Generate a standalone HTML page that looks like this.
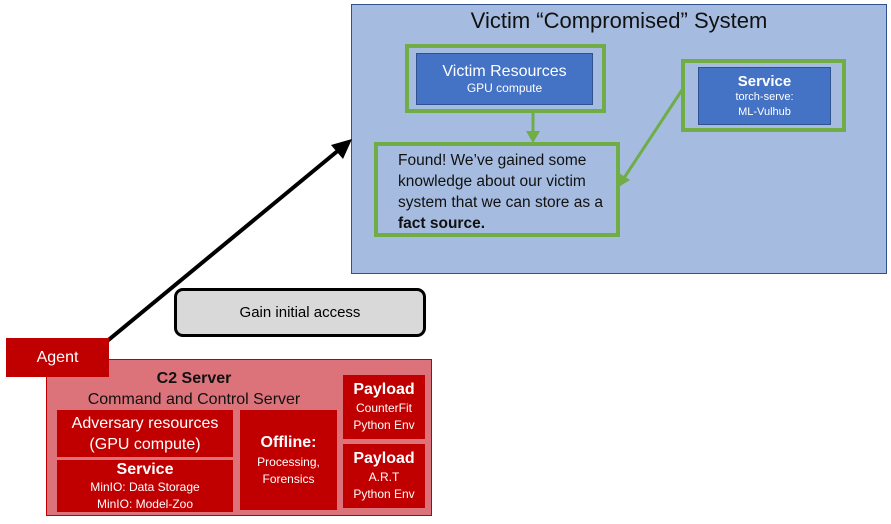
<!DOCTYPE html>
<html><head><style>
body{margin:0;width:891px;height:524px;background:#fff;position:relative;overflow:hidden;font-family:"Liberation Sans",sans-serif}
.a{position:absolute;box-sizing:border-box}
.r{background:#c00000;color:#fff;text-align:center;display:flex;flex-direction:column;justify-content:center;align-items:center}
.b{background:#4472c4;border:1px solid #2f528f;color:#fff;text-align:center;display:flex;flex-direction:column;justify-content:center}
.g{border:4px solid #70ad47}
</style></head><body>
<div class="a" style="left:351px;top:4px;width:536px;height:270px;background:#a5bbe0;border:1px solid #2f528f"></div>
<div class="a" style="left:351px;top:8px;width:536px;text-align:center;font-size:22px;color:#111">Victim “Compromised” System</div>
<div class="a g" style="left:405px;top:44px;width:201px;height:69px"></div>
<div class="a b" style="left:416px;top:53px;width:177px;height:52px"><div style="font-size:16px">Victim Resources</div><div style="font-size:12px">GPU compute</div></div>
<div class="a g" style="left:681px;top:59px;width:165px;height:73px"></div>
<div class="a b" style="left:698px;top:67px;width:133px;height:58px"><div style="font-size:15px;font-weight:bold">Service</div><div style="font-size:11px;line-height:15px">torch-serve:<br>ML-Vulhub</div></div>
<div class="a g" style="left:374px;top:142px;width:246px;height:95px;padding:4px 0 0 20px;font-size:15.5px;line-height:21px;color:#111">Found! We’ve gained some knowledge about our victim system that we can store as a <b>fact source.</b></div>
<svg class="a" style="left:0;top:0" width="891" height="524">
<line x1="533" y1="112" x2="533" y2="134" stroke="#70ad47" stroke-width="3"/>
<polygon points="526,131 540,131 533,143" fill="#70ad47"/>
<line x1="682" y1="90" x2="624" y2="178" stroke="#70ad47" stroke-width="3"/>
<polygon points="617,188 619,173 630,180" fill="#70ad47"/>
<line x1="106" y1="342" x2="340" y2="149" stroke="#000" stroke-width="4"/>
<polygon points="352,139 331,145 343,159" fill="#000"/>
</svg>
<div class="a" style="left:174px;top:288px;width:252px;height:49px;background:#d9d9d9;border:3px solid #000;border-radius:9px;display:flex;align-items:center;justify-content:center;font-size:15px">Gain initial access</div>
<div class="a" style="left:46px;top:359px;width:386px;height:157px;background:#dc727a;border:1px solid #c00000"></div>
<div class="a r" style="left:6px;top:338px;width:103px;height:39px;font-size:16px">Agent</div>
<div class="a" style="left:46px;top:368px;width:296px;text-align:center;font-size:16px;line-height:21px;color:#111"><b>C2 Server</b><br>Command and Control Server</div>
<div class="a r" style="left:57px;top:410px;width:176px;height:47px;font-size:16px;line-height:21px">Adversary resources<br>(GPU compute)</div>
<div class="a r" style="left:57px;top:460px;width:176px;height:52px;font-size:12px;line-height:17px"><b style="font-size:16px;line-height:19px">Service</b>MinIO: Data Storage<br>MinIO: Model-Zoo</div>
<div class="a r" style="left:240px;top:410px;width:97px;height:100px;font-size:12px;line-height:17px"><b style="font-size:16px;line-height:22px">Offline:</b>Processing,<br>Forensics</div>
<div class="a r" style="left:343px;top:375px;width:82px;height:64px;font-size:12px;line-height:17px"><b style="font-size:16px;line-height:20px">Payload</b>CounterFit<br>Python Env</div>
<div class="a r" style="left:343px;top:444px;width:82px;height:64px;font-size:12px;line-height:17px"><b style="font-size:16px;line-height:20px">Payload</b>A.R.T<br>Python Env</div>
</body></html>
